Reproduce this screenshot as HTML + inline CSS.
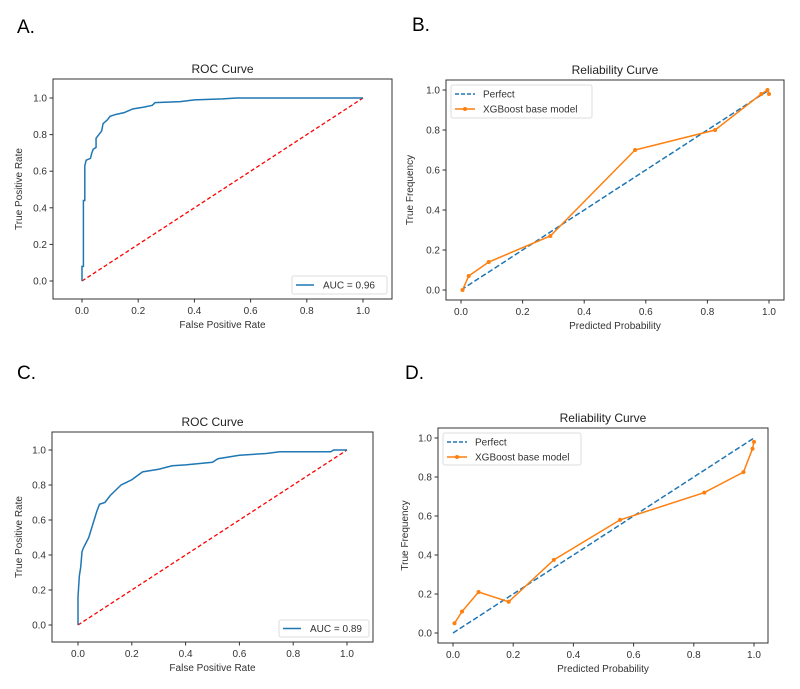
<!DOCTYPE html>
<html><head><meta charset="utf-8"><style>
body{margin:0;background:#fff;width:800px;height:684px;overflow:hidden}
svg{font-family:"Liberation Sans","DejaVu Sans",sans-serif}
</style></head><body>
<svg id="s" width="800" height="684">
<text x="17" y="33" font-size="19" fill="#000">A.</text>
<text x="412" y="31" font-size="19" fill="#000">B.</text>
<text x="17" y="379" font-size="19" fill="#000">C.</text>
<text x="405" y="379" font-size="19" fill="#000">D.</text>
</svg>
<script>
const rocAX=[0,0,0.005,0.005,0.01,0.01,0.015,0.03,0.035,0.04,0.05,0.05,0.06,0.07,0.075,0.09,0.1,0.12,0.15,0.18,0.22,0.25,0.26,0.35,0.4,0.5,0.55,1];
const rocAY=[0,0.08,0.08,0.44,0.44,0.63,0.66,0.67,0.7,0.72,0.73,0.78,0.8,0.82,0.86,0.88,0.9,0.91,0.92,0.94,0.95,0.96,0.975,0.98,0.99,0.995,1,1];
const rocCX=[0,0,0.005,0.01,0.015,0.02,0.03,0.04,0.05,0.06,0.07,0.08,0.1,0.12,0.14,0.16,0.2,0.24,0.3,0.35,0.4,0.5,0.52,0.6,0.7,0.75,0.94,0.95,1];
const rocCY=[0,0.16,0.28,0.33,0.42,0.44,0.47,0.5,0.55,0.6,0.65,0.69,0.7,0.74,0.77,0.8,0.83,0.875,0.89,0.91,0.915,0.93,0.95,0.97,0.98,0.99,0.99,1,1];
const relBX=[0.005,0.025,0.09,0.29,0.565,0.825,0.975,0.995,1.0];
const relBY=[0.0,0.07,0.14,0.27,0.70,0.80,0.98,1.0,0.98];
const relDX=[0.005,0.03,0.085,0.185,0.335,0.555,0.835,0.965,0.995,1.0];
const relDY=[0.05,0.11,0.21,0.16,0.375,0.58,0.72,0.825,0.945,0.98];
const ticks=[0,0.2,0.4,0.6,0.8,1.0];
const tickLabels=["0.0","0.2","0.4","0.6","0.8","1.0"];
const NS="http://www.w3.org/2000/svg";
const svg=document.getElementById('s');
function el(t,a,p){const e=document.createElementNS(NS,t);for(const k in a)e.setAttribute(k,a[k]);(p||svg).appendChild(e);return e;}
function panel(cfg){
  const g=el('g',{});
  
  
  const sx=v=>cfg.x0+(cfg.x1-cfg.x0)*v, sy=v=>cfg.y0+(cfg.y1-cfg.y0)*v;
  const box=el('rect',{x:cfg.bx0,y:cfg.by0,width:cfg.bx1-cfg.bx0,height:cfg.by1-cfg.by0,fill:'none',stroke:'#333','stroke-width':1},g);
  
  
  ticks.forEach((t,i)=>{
    el('line',{x1:sx(t),x2:sx(t),y1:cfg.by1,y2:cfg.by1+3.5,stroke:'#333'},g);
    const tx=el('text',{x:sx(t),y:cfg.by1+15,'font-size':10,'text-anchor':'middle',fill:'#333'},g);tx.textContent=tickLabels[i];
    
    
    el('line',{x1:cfg.bx0-3.5,x2:cfg.bx0,y1:sy(t),y2:sy(t),stroke:'#333'},g);
    const ty=el('text',{x:cfg.bx0-6,y:sy(t)+3.5,'font-size':10,'text-anchor':'end',fill:'#333'},g);ty.textContent=tickLabels[i];
    
    
  });
  const ti=el('text',{x:(cfg.bx0+cfg.bx1)/2,y:cfg.by0-6,'font-size':12,'text-anchor':'middle',fill:'#222'},g);ti.textContent=cfg.title;
  
  
  const xl=el('text',{x:(cfg.bx0+cfg.bx1)/2,y:cfg.by1+29,'font-size':10,'text-anchor':'middle',fill:'#333'},g);xl.textContent=cfg.xlabel;
  
  
  const yx=cfg.ylx,yy=(cfg.by0+cfg.by1)/2;
  const yl=el('text',{x:yx,y:yy,'font-size':10,'text-anchor':'middle',fill:'#333',transform:`rotate(-90 ${yx} ${yy})`},g);yl.textContent=cfg.ylabel;
  
  
  return {g,sx,sy};
}
function line(p,xs,ys,attrs,name){
  const d=xs.map((x,i)=>(i?'L':'M')+p.sx(x).toFixed(2)+' '+p.sy(ys[i]).toFixed(2)).join(' ');
  const e=el('path',Object.assign({d,fill:'none'},attrs),p.g);
  
  
  return e;
}
function dots(p,xs,ys){
  xs.forEach((x,i)=>{const c=el('circle',{cx:p.sx(x),cy:p.sy(ys[i]),r:2,fill:'#ff7f0e'},p.g);
    
    });
}
function rocLegend(p,x0,y0,x1,y1,txt){
  const lg=el('g',{},p.g);
  
  
  el('rect',{x:x0,y:y0,width:x1-x0,height:y1-y0,fill:'#fff',stroke:'#ddd',rx:2},lg);
  el('line',{x1:x0+4,x2:x0+22,y1:(y0+y1)/2,y2:(y0+y1)/2,stroke:'#1f77b4','stroke-width':1.5},lg);
  const t=el('text',{x:x0+31,y:(y0+y1)/2+3.5,'font-size':10,fill:'#333'},lg);t.textContent=txt;
}
function relLegend(p,x0,y0,x1,y1){
  const lg=el('g',{},p.g);
  
  
  el('rect',{x:x0,y:y0,width:x1-x0,height:y1-y0,fill:'#fff',stroke:'#ddd',rx:2},lg);
  const ya=y0+9,yb=y0+24;
  el('line',{x1:x0+4,x2:x0+24,y1:ya,y2:ya,stroke:'#1f77b4','stroke-width':1.5,'stroke-dasharray':'4 2'},lg);
  let t=el('text',{x:x0+32,y:ya+3.5,'font-size':10,fill:'#333'},lg);t.textContent='Perfect';
  el('line',{x1:x0+4,x2:x0+24,y1:yb,y2:yb,stroke:'#ff7f0e','stroke-width':1.5},lg);
  el('circle',{cx:x0+14,cy:yb,r:2,fill:'#ff7f0e'},lg);
  t=el('text',{x:x0+32,y:yb+3.5,'font-size':10,fill:'#333'},lg);t.textContent='XGBoost base model';
}
// A
let p=panel({name:'roc-chart-a',bx0:53,bx1:392,by0:79,by1:299,x0:82,x1:363,y0:281,y1:98,title:'ROC Curve',xlabel:'False Positive Rate',ylabel:'True Positive Rate',ylx:22});
line(p,[0,1],[0,1],{stroke:'#ff0000','stroke-width':1.3,'stroke-dasharray':'4 2.5'},'chance-line');
line(p,rocAX,rocAY,{stroke:'#1f77b4','stroke-width':1.5},'roc-curve');
rocLegend(p,292,276,387,294,'AUC = 0.96');
// B
p=panel({name:'reliability-chart-b',bx0:446,bx1:784,by0:80,by1:300,x0:461,x1:769,y0:290,y1:90,title:'Reliability Curve',xlabel:'Predicted Probability',ylabel:'True Frequency',ylx:413});
line(p,[0,1],[0,1],{stroke:'#1f77b4','stroke-width':1.5,'stroke-dasharray':'5.5 2.5'},'perfect-line');
line(p,relBX,relBY,{stroke:'#ff7f0e','stroke-width':1.5},'calibration-curve');
dots(p,relBX,relBY);
relLegend(p,451,85,592,118);
// C
p=panel({name:'roc-chart-c',bx0:52,bx1:373,by0:432,by1:642,x0:78,x1:347,y0:625,y1:450,title:'ROC Curve',xlabel:'False Positive Rate',ylabel:'True Positive Rate',ylx:22});
line(p,[0,1],[0,1],{stroke:'#ff0000','stroke-width':1.3,'stroke-dasharray':'4 2.5'},'chance-line');
line(p,rocCX,rocCY,{stroke:'#1f77b4','stroke-width':1.5},'roc-curve');
rocLegend(p,279,620,369,637,'AUC = 0.89');
// D
p=panel({name:'reliability-chart-d',bx0:438,bx1:768,by0:428,by1:643,x0:453,x1:754,y0:633,y1:438,title:'Reliability Curve',xlabel:'Predicted Probability',ylabel:'True Frequency',ylx:408});
line(p,[0,1],[0,1],{stroke:'#1f77b4','stroke-width':1.5,'stroke-dasharray':'5.5 2.5'},'perfect-line');
line(p,relDX,relDY,{stroke:'#ff7f0e','stroke-width':1.5},'calibration-curve');
dots(p,relDX,relDY);
relLegend(p,443,433,581,465);
</script>
</body></html>
